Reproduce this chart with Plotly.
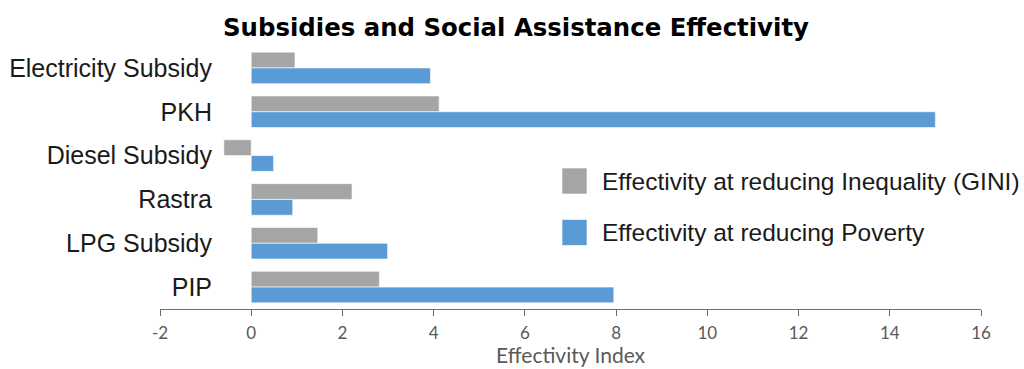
import plotly.graph_objects as go

categories = ["Electricity Subsidy", "PKH", "Diesel Subsidy", "Rastra", "LPG Subsidy", "PIP"]
inequality = [0.96, 4.12, -0.60, 2.21, 1.46, 2.81]
poverty = [3.93, 15.0, 0.49, 0.91, 2.99, 7.95]
series_names = ["Effectivity at reducing Inequality (GINI)", "Effectivity at reducing Poverty"]
colors = ["#A5A5A5", "#5B9BD5"]
x_ticks = [-2, 0, 2, 4, 6, 8, 10, 12, 14, 16]
x_tick_labels = ["-2", "0", "2", "4", "6", "8", "10", "12", "14", "16"]

W, H = 1024, 369
L, R, T, B = 160, 43, 46, 60
pw, ph = W - L - R, H - T - B

def px_x(px):
    return (px - L) / pw

def px_y(py):
    return (H - B - py) / ph

fig = go.Figure()
for name, vals, col in zip(series_names, [inequality, poverty], colors):
    fig.add_trace(go.Bar(
        y=categories, x=vals, name=name, orientation="h",
        marker=dict(color=col, line=dict(color="rgba(255,255,255,0.6)", width=1)),
        showlegend=False,
    ))

# custom legend (large swatches)
sw_tops = [168, 219.5]
for name, col, top in zip(series_names, colors, sw_tops):
    fig.add_shape(type="rect", xref="paper", yref="paper",
                  x0=px_x(562), x1=px_x(587), y0=px_y(top + 26), y1=px_y(top),
                  fillcolor=col, line=dict(color="rgba(255,255,255,0.6)", width=1))
    fig.add_annotation(xref="paper", yref="paper", x=px_x(600), y=px_y(top + 13),
                       text=name, showarrow=False, xanchor="left", yanchor="middle",
                       font=dict(family="Liberation Sans, Arial", size=24.5, color="#1a1a1a"))

# x-axis title as annotation placed below tick labels
fig.add_annotation(xref="paper", yref="paper", x=px_x(571), y=px_y(354.5),
                   text="Effectivity Index", showarrow=False, borderpad=0,
                   xanchor="center", yanchor="middle",
                   font=dict(family="Lato", size=21, color="#595959"))

fig.update_layout(
    width=W, height=H,
    margin=dict(l=L, r=R, t=T, b=B),
    paper_bgcolor="white", plot_bgcolor="white",
    barmode="group", bargap=0.28, bargroupgap=0,
    title=dict(text="<b>Subsidies and Social Assistance Effectivity</b>",
               x=516 / W, xanchor="center", y=1 - 27 / H, yanchor="middle",
               font=dict(family="DejaVu Sans", size=24.4, color="#000000")),
    xaxis=dict(range=[-2, 16], tickvals=x_ticks, ticktext=x_tick_labels,
               ticks="outside", ticklen=6, ticklabelstandoff=3, automargin=False,
               tickcolor="#6d6d6d", showline=True, linecolor="#6d6d6d", linewidth=1,
               showgrid=False, zeroline=False,
               tickfont=dict(family="Lato", size=17, color="#595959")),
    yaxis=dict(autorange="reversed", anchor="free", position=px_x(212), automargin=False,
               showline=False, ticks="", showgrid=False, zeroline=False,
               tickfont=dict(family="Liberation Sans, Arial", size=25, color="#1a1a1a")),
)

fig.write_html("out.html")
